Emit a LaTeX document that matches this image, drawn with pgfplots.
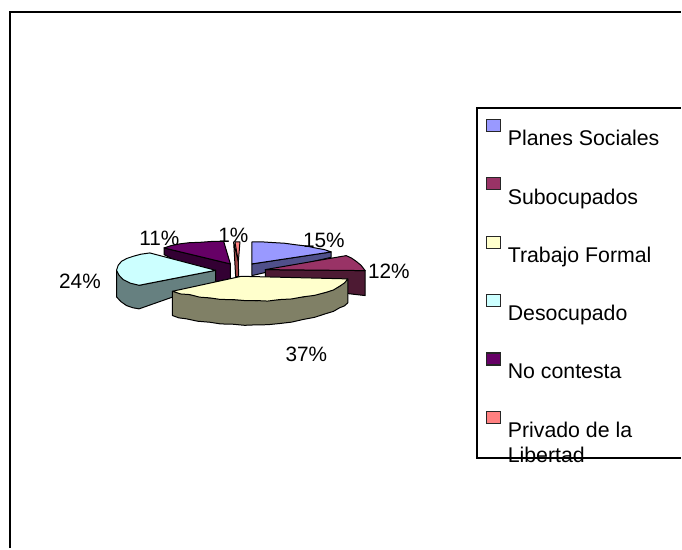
\documentclass[border=0pt]{standalone}
\usepackage{pgfplots}
\pgfplotsset{compat=1.18}
\usepackage{fontspec}
\setmainfont{Liberation Sans}

\definecolor{planes}{HTML}{9999FF}
\definecolor{planesd}{HTML}{50508A}
\definecolor{subo}{HTML}{993366}
\definecolor{subod}{HTML}{4D1A33}
\definecolor{formal}{HTML}{FFFFCC}
\definecolor{formald}{HTML}{808066}
\definecolor{deso}{HTML}{CCFFFF}
\definecolor{desod}{HTML}{668080}
\definecolor{nocon}{HTML}{660066}
\definecolor{nocond}{HTML}{330033}
\definecolor{priv}{HTML}{FF8080}
\definecolor{privd}{HTML}{A04848}

\tikzset{
  face/.style={draw=black, line width=0.75pt, line join=round, fill=#1},
  swatch/.style={draw=black!85, line width=0.9pt, fill=#1},
  pct/.style={anchor=base west, inner sep=0pt, font=\fontsize{15.6pt}{15.6pt}\selectfont},
  leg/.style={anchor=base west, inner sep=0pt, font=\fontsize{16pt}{16pt}\selectfont},
}

\begin{document}
\begin{tikzpicture}
\begin{axis}[
  width=511.5pt,
  height=411.75pt,
  scale only axis,
  axis lines=none,
  xmin=0, xmax=682,
  ymin=0, ymax=549,
  y dir=reverse,
  clip=false,
]
% keeps the page at full size
\addplot[draw=none, fill=white] coordinates {(0,0) (682,0) (682,549) (0,549)} -- cycle;

% outer frame, open at right and bottom
\addplot[black, line width=1.5pt] coordinates {(10,549) (10,12) (682,12)};

% Planes Sociales
\addplot[face=planesd] coordinates {(252.3,264.3) (331.7,252.3) (331.7,257.7) (252.3,276)} -- cycle;
\addplot[face=planes] coordinates {(252.3,264.3) (252.3,242.3) (262,242.2) (273,242.9) (285,243.6) (296.7,245.2) (307,246.4) (316.7,248.5) (325,250) (331.7,252.3)} -- cycle;

% Subocupados
\addplot[face=subod] coordinates {(265.7,270) (365.7,271) (365.7,296) (348,294) (348,280) (265.7,280)} -- cycle;
\addplot[face=subo] coordinates {(265.7,270) (346.7,256) (352,258.4) (356.7,261.7) (361.5,265.6) (365.7,271)} -- cycle;

% No contesta
\addplot[face=nocond] coordinates {(164.3,248.3) (230.7,264.3) (230.7,279.3) (216,282) (164.3,255)} -- cycle;
\addplot[face=nocon] coordinates {(230.7,264.3) (164.3,248.3) (172,245.8) (180,244.2) (190,243) (200,242.7) (212,241.8) (224,241.7)} -- cycle;

% Desocupado
\addplot[face=desod] coordinates {(116.7,270.7) (116.7,297.3) (121,302) (126.7,306) (133,308.2) (139.3,309.3) (216,282.3) (216,270.7) (139.3,285.7)} -- cycle;
\addplot[face=deso] coordinates {(216,270.7) (139.3,285.7) (130.5,283.6) (123.3,280) (119.2,275.6) (116.7,270.7) (118.4,265.6) (121.7,261.7) (127,258.8) (133.3,256.7) (141,254.6) (150,253.3)} -- cycle;

% Privado de la Libertad
\addplot[face=privd] coordinates {(234,242.3) (238.7,262) (239,277) (236,277)} -- cycle;
\addplot[face=priv] coordinates {(235.3,242.3) (240.3,242.3) (238.7,262)} -- cycle;

% Trabajo Formal
\addplot[face=formald] coordinates {(172.7,291.7) (172.7,316) (179,318.3) (186.7,319.3) (198,321.7) (210,322.7) (221,324.4) (233.3,324.7) (245,325.8) (256.7,325.3) (268,325.2) (280,324) (292,322.6) (303.3,320) (315,317.8) (326.7,314) (334,311.8) (340,308.3) (345,306.3) (348.3,303.3) (348.3,279.3) (340,286.7) (326.7,292.7) (303.3,297.3) (280,300) (256.7,301) (233.3,300) (210,298.3) (190,295)} -- cycle;
\addplot[face=formal] coordinates {(241.7,276.7) (348.3,279.3) (345,283.4) (340,286.7) (334,290.4) (326.7,292.7) (315,295.8) (303.3,297.3) (292,299.4) (280,300) (268,301.5) (256.7,301) (245,301) (233.3,300) (221,299.9) (210,298.3) (200,297.6) (190,295) (181,294.4) (172.7,291.7)} -- cycle;

% data labels
\node[pct] at (axis cs:303.3,247.5) {15\%};
\node[pct] at (axis cs:368.3,279) {12\%};
\node[pct] at (axis cs:285.7,362) {37\%};
\node[pct] at (axis cs:59,289) {24\%};
\node[pct] at (axis cs:139.3,246) {11\%};
\node[pct] at (axis cs:218.5,242.5) {1\%};

% legend
\addplot[swatch=planes] coordinates {(487,119.5) (501,119.5) (501,131.5) (487,131.5)} -- cycle;
\addplot[swatch=subo] coordinates {(487,178) (501,178) (501,190) (487,190)} -- cycle;
\addplot[swatch=formal] coordinates {(487,236.5) (501,236.5) (501,248.5) (487,248.5)} -- cycle;
\addplot[swatch=deso] coordinates {(487,295) (501,295) (501,307) (487,307)} -- cycle;
\addplot[swatch=nocon] coordinates {(487,353.5) (501,353.5) (501,365.5) (487,365.5)} -- cycle;
\addplot[swatch=priv] coordinates {(487,412) (501,412) (501,424) (487,424)} -- cycle;
\node[leg] at (axis cs:508.3,145.8) {Planes Sociales};
\node[leg] at (axis cs:508.3,204.5) {Subocupados};
\node[leg] at (axis cs:508.3,262.8) {Trabajo Formal};
\node[leg] at (axis cs:508.3,321) {Desocupado};
\node[leg] at (axis cs:508.3,379.3) {No contesta};
\node[leg] at (axis cs:508.3,437.8) {Privado de la};
\node[leg] at (axis cs:508.3,463.5) {Libertad};
\addplot[black, line width=1.4pt] coordinates {(682,458.5) (478,458.5) (478,108) (682,108)};
\end{axis}
\end{tikzpicture}
\end{document}
